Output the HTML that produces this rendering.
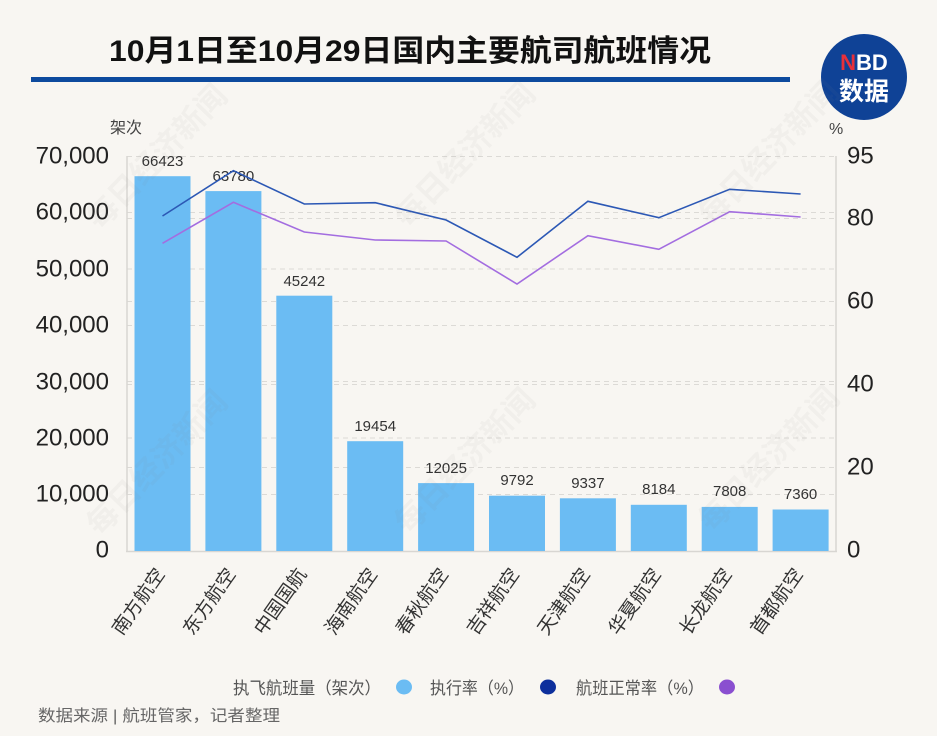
<!DOCTYPE html>
<html>
<head>
<meta charset="utf-8">
<style>
html,body{margin:0;padding:0;background:#f8f6f2;width:937px;height:736px;overflow:hidden;}
svg{display:block;overflow:hidden;}
text{font-family:"Liberation Sans","Noto Sans CJK SC",sans-serif;}
</style>
</head>
<body>
<svg width="937" height="736" viewBox="0 0 937 736" xmlns="http://www.w3.org/2000/svg">
<rect width="937" height="736" fill="#f8f6f2"/>

<!-- Title -->
<text x="109" y="61" font-size="30" font-weight="bold" fill="#111" textLength="602" lengthAdjust="spacingAndGlyphs">10月1日至10月29日国内主要航司航班情况</text>
<rect x="31" y="77" width="759" height="5" fill="#0d4a9e"/>

<!-- NBD logo -->
<circle cx="864" cy="77" r="43" fill="#0f4296"/>
<text x="864" y="70" font-size="22" font-weight="bold" text-anchor="middle" fill="#fff"><tspan fill="#e8303a">N</tspan>BD</text>
<text x="864" y="100" font-size="25" font-weight="bold" text-anchor="middle" fill="#fff">数据</text>

<!-- unit labels -->
<text x="110" y="133" font-size="16" fill="#444">架次</text>
<text x="829" y="134" font-size="16" fill="#444">%</text>

<!-- gridlines -->
<g stroke="#dcdad6" stroke-width="1" stroke-dasharray="5,4">
<line x1="127" x2="836" y1="156.5" y2="156.5"/>
<line x1="127" x2="836" y1="212.5" y2="212.5"/>
<line x1="127" x2="836" y1="269" y2="269"/>
<line x1="127" x2="836" y1="325.5" y2="325.5"/>
<line x1="127" x2="836" y1="381.5" y2="381.5"/>
<line x1="127" x2="836" y1="438" y2="438"/>
<line x1="127" x2="836" y1="494.5" y2="494.5"/>
<line x1="127" x2="836" y1="218.5" y2="218.5"/>
<line x1="127" x2="836" y1="301.5" y2="301.5"/>
<line x1="127" x2="836" y1="384.5" y2="384.5"/>
<line x1="127" x2="836" y1="467.5" y2="467.5"/>
</g>
<g stroke="#d8d6d2" stroke-width="1.5">
<line x1="127" x2="127" y1="156" y2="552"/>
<line x1="836" x2="836" y1="156" y2="552"/>
<line x1="126" x2="837" y1="551.5" y2="551.5"/>
</g>

<!-- left ticks -->
<g font-size="24" fill="#222" text-anchor="end" dominant-baseline="central">
<text x="109" y="156">70,000</text>
<text x="109" y="212">60,000</text>
<text x="109" y="269">50,000</text>
<text x="109" y="325">40,000</text>
<text x="109" y="382">30,000</text>
<text x="109" y="438">20,000</text>
<text x="109" y="494">10,000</text>
<text x="109" y="550">0</text>
</g>
<!-- right ticks -->
<g font-size="24" fill="#222" dominant-baseline="central">
<text x="847" y="156">95</text>
<text x="847" y="218">80</text>
<text x="847" y="301">60</text>
<text x="847" y="384">40</text>
<text x="847" y="467">20</text>
<text x="847" y="550">0</text>
</g>

<!-- bars -->
<g fill="#6bbcf3">
<rect x="134.5" y="176.2" width="56" height="374.8"/>
<rect x="205.4" y="191.1" width="56" height="359.9"/>
<rect x="276.3" y="295.7" width="56" height="255.3"/>
<rect x="347.2" y="441.2" width="56" height="109.8"/>
<rect x="418.1" y="483.1" width="56" height="67.9"/>
<rect x="489.0" y="495.7" width="56" height="55.3"/>
<rect x="559.9" y="498.3" width="56" height="52.7"/>
<rect x="630.8" y="504.8" width="56" height="46.2"/>
<rect x="701.7" y="506.9" width="56" height="44.1"/>
<rect x="772.6" y="509.5" width="56" height="41.5"/>
</g>

<!-- value labels -->
<g font-size="15" fill="#333" text-anchor="middle">
<text x="162.5" y="166">66423</text>
<text x="233.4" y="181">63780</text>
<text x="304.3" y="286">45242</text>
<text x="375.2" y="431">19454</text>
<text x="446.1" y="473">12025</text>
<text x="517.0" y="485">9792</text>
<text x="587.9" y="488">9337</text>
<text x="658.8" y="494">8184</text>
<text x="729.7" y="496">7808</text>
<text x="800.6" y="499">7360</text>
</g>

<!-- lines -->
<polyline fill="none" stroke="#a36de0" stroke-width="1.6" points="162.5,243.3 233.4,202.3 304.3,232 375.2,240 446.1,241 517,284 587.9,235.7 658.8,249.3 729.7,211.7 800.6,217"/>
<polyline fill="none" stroke="#2c58b5" stroke-width="1.6" points="162.5,216 233.4,170.7 304.3,204 375.2,202.7 446.1,220 517,257.3 587.9,201.3 658.8,217.7 729.7,189.3 800.6,194"/>

<!-- x labels -->
<g font-size="19" fill="#333" text-anchor="end">
<text transform="translate(165.5,574) rotate(-55)">南方航空</text>
<text transform="translate(236.4,574) rotate(-55)">东方航空</text>
<text transform="translate(307.3,574) rotate(-55)">中国国航</text>
<text transform="translate(378.2,574) rotate(-55)">海南航空</text>
<text transform="translate(449.1,574) rotate(-55)">春秋航空</text>
<text transform="translate(520.0,574) rotate(-55)">吉祥航空</text>
<text transform="translate(590.9,574) rotate(-55)">天津航空</text>
<text transform="translate(661.8,574) rotate(-55)">华夏航空</text>
<text transform="translate(732.7,574) rotate(-55)">长龙航空</text>
<text transform="translate(803.6,574) rotate(-55)">首都航空</text>
</g>

<!-- watermarks -->
<g font-family="'Noto Serif CJK SC',serif" font-size="31" font-weight="bold" fill="#808080" fill-opacity="0.06" text-anchor="middle" dominant-baseline="central">
<text transform="translate(157,157) rotate(-46)">每日经济新闻</text>
<text transform="translate(465,155) rotate(-46)">每日经济新闻</text>
<text transform="translate(769,153) rotate(-46)">每日经济新闻</text>
<text transform="translate(157,463) rotate(-46)">每日经济新闻</text>
<text transform="translate(465,461) rotate(-46)">每日经济新闻</text>
<text transform="translate(769,459) rotate(-46)">每日经济新闻</text>
</g>

<!-- legend -->
<g font-size="17" fill="#555">
<text x="233" y="694" textLength="148" lengthAdjust="spacingAndGlyphs">执飞航班量（架次）</text>
<text x="430" y="694" textLength="94" lengthAdjust="spacingAndGlyphs">执行率（%）</text>
<text x="576" y="694" textLength="128" lengthAdjust="spacingAndGlyphs">航班正常率（%）</text>
</g>
<ellipse cx="404" cy="687" rx="8" ry="7.5" fill="#6bbcf3"/>
<ellipse cx="548" cy="687" rx="8" ry="7.5" fill="#0d2f9c"/>
<ellipse cx="727" cy="687" rx="8" ry="7.5" fill="#8a4fd0"/>

<!-- footer -->
<text x="38" y="721" font-size="16" fill="#666" textLength="242" lengthAdjust="spacingAndGlyphs">数据来源 | 航班管家，记者整理</text>
</svg>
</body>
</html>
